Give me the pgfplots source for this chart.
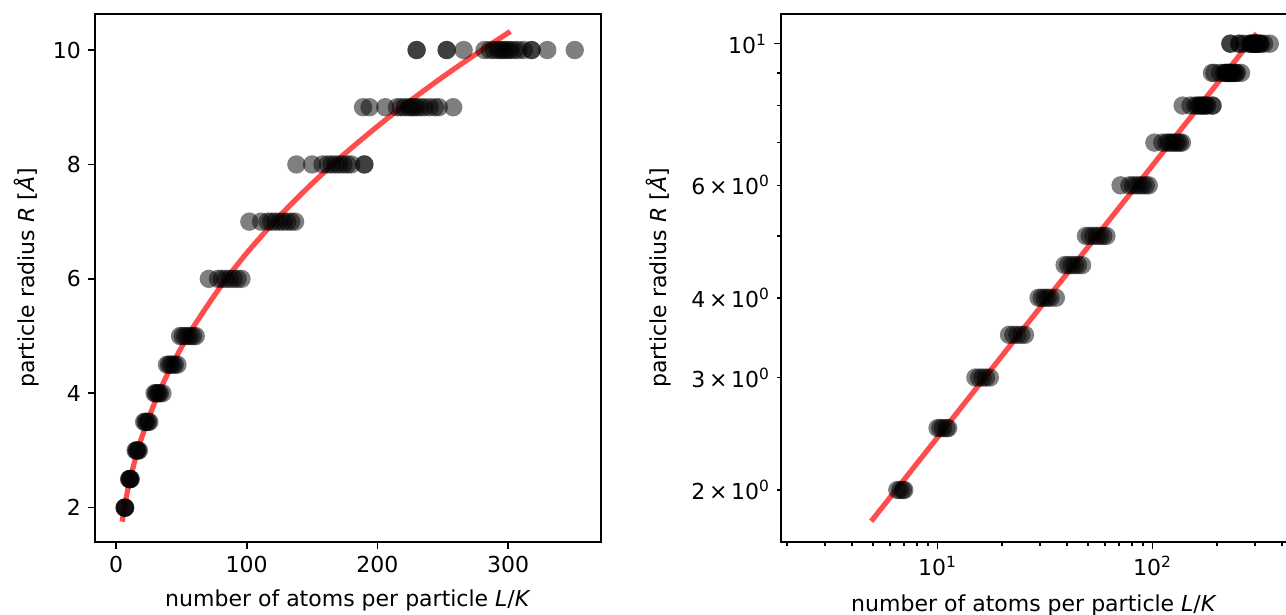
\documentclass[border=0pt]{standalone}
\usepackage{fontspec}
\setmainfont{DejaVu Sans}
\usepackage{pgfplots}
\pgfplotsset{compat=1.18}
\usepackage{pgfplotstable}

\pgfplotstableread{
N R
6.5 2
6.7 2
6.9 2
7.0 2
10.0 2.5
10.3 2.5
10.6 2.5
11.0 2.5
11.2 2.5
15.0 3
15.6 3
16.2 3
16.8 3
17.5 3
21.5 3.5
22.5 3.5
23.5 3.5
24.5 3.5
25.5 3.5
29.5 4
30.5 4
31.5 4
32.5 4
33.5 4
35.5 4
39 4.5
40.5 4.5
42 4.5
43.5 4.5
45 4.5
47 4.5
49 5
51 5
53 5
55 5
57 5
59 5
61 5
71 6
78 6
81 6
84 6
87 6
90 6
93 6
96 6
102 7
111 7
116 7
119 7
122 7
125 7
128 7
131 7
134 7
137 7
138 8
150 8
158 8
162 8
165 8
168 8
171 8
174 8
177 8
180 8
190 8
190 8
189 9
194 9
206 9
215 9
218 9
221 9
224 9
226 9
228 9
230 9
233 9
236 9
240 9
244 9
247 9
258 9
230 10
230 10
253 10
253 10
266 10
282 10
286 10
289 10
292 10
294 10
296 10
298 10
300 10
302 10
305 10
308 10
312 10
318 10
318 10
330 10
351 10
}\pts

\pgfplotstableread{
N R
5 1.800
7.5 2.139
10 2.418
15 2.874
20 3.249
30 3.862
40 4.365
50 4.800
60 5.188
80 5.864
100 6.450
125 7.093
150 7.665
175 8.186
200 8.665
225 9.111
250 9.529
275 9.924
300 10.299
}\fit

\begin{document}
\begin{tikzpicture}
\pgfplotsset{
  base/.style={
    anchor=south west, scale only axis, width=253pt, height=264pt,
    axis line style={black, line width=0.8pt},
    tick style={black, line width=0.8pt},
    major tick length=3.5pt, minor tick length=2pt,
    tick align=outside, tick pos=left,
    tick label style={font=\fontsize{11}{13}\selectfont},
    label style={font=\fontsize{11}{13}\selectfont},
    /pgf/number format/assume math mode=true,
    /pgf/number format/1000 sep={},
    xlabel={number of atoms per particle \textit{L}/\textit{K}},
    ylabel={particle radius \textit{R} [\textit{Å}]},
  },
  pts/.style={only marks, mark=*, mark size=4.6pt, draw opacity=0,
    mark options={draw opacity=0, line width=0pt, fill=black, fill opacity=0.5}},
  fitl/.style={no marks, smooth, color=red, line width=2.6pt, opacity=0.7, line cap=rect},
}
\begin{axis}[base, at={(47.5pt,36.5pt)},
  xlabel style={yshift=-1.5pt},
  xmin=-16.1, xmax=371.1, ymin=1.4, ymax=10.63,
  xtick={0,100,200,300}, ytick={2,4,6,8,10}]
\addplot[pts] table[x=N,y=R]{\pts};
\addplot[fitl] table[x=N,y=R]{\fit};
\end{axis}
\begin{axis}[base, at={(390.5pt,36.5pt)},
  xlabel style={yshift=-2.5pt},
  xmode=log, ymode=log,
  xmin=1.87, xmax=422, ymin=1.658, ymax=11.13,
  xtick={10,100}, xticklabels={10\textsuperscript{1},10\textsuperscript{2}},
  minor xtick={2,3,4,5,6,7,8,9,20,30,40,50,60,70,80,90,200,300,400},
  ytick={10}, yticklabels={10\textsuperscript{1}},
  minor ytick={5,7,8,9},
  extra y ticks={2,3,4,6},
  extra y tick labels={2\,×\,10\textsuperscript{0},3\,×\,10\textsuperscript{0},4\,×\,10\textsuperscript{0},6\,×\,10\textsuperscript{0}},
  extra y tick style={major tick length=2pt, tick pos=left, tick align=outside}]
\addplot[pts] table[x=N,y=R]{\pts};
\addplot[fitl] table[x=N,y=R]{\fit};
\end{axis}
\pgfresetboundingbox
\useasboundingbox (0,0) rectangle (643pt,307.5pt);
\end{tikzpicture}
\end{document}
